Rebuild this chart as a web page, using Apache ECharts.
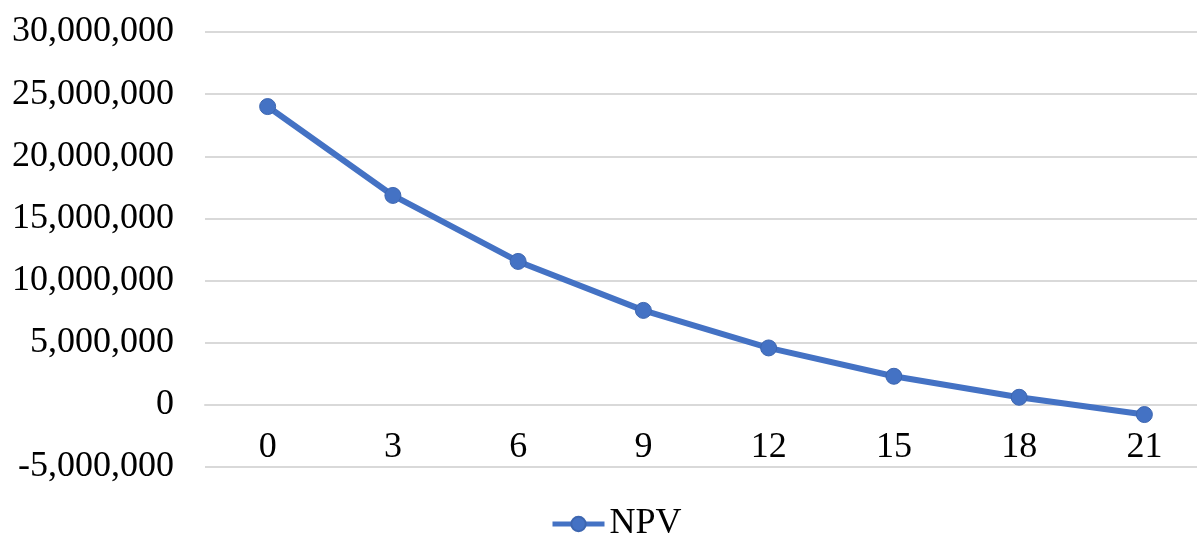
<!DOCTYPE html>
<html>
<head>
<meta charset="utf-8">
<script src="https://cdn.jsdelivr.net/npm/echarts@6/dist/echarts.min.js"></script>
<style>
html,body{margin:0;padding:0;background:#fff;}
#chart{width:1197px;height:536px;}
</style>
</head>
<body>
<div id="chart"></div>
<script>
const categories = ['0', '3', '6', '9', '12', '15', '18', '21'];
const npvValues = [24000000, 16850000, 11540000, 7600000, 4580000, 2300000, 610000, -780000];
const seriesName = 'NPV';

const FONT = '"Liberation Serif", "Times New Roman", serif';
const chart = echarts.init(document.getElementById('chart'), null, {renderer: 'canvas'});
chart.setOption({
  animation: false,
  backgroundColor: '#ffffff',
  grid: {left: 205, right: -10, top: 32, bottom: 69, containLabel: false, outerBoundsMode: 'none'},
  legend: {
    data: [seriesName],
    left: 550,
    top: 506,
    padding: 0,
    itemWidth: 52,
    itemHeight: 18,
    itemGap: 10,
    lineStyle: {width: 5, color: '#4472C4'},
    itemStyle: {color: '#4472C4'},
    textStyle: {fontFamily: FONT, fontSize: 36, color: '#000'}
  },
  xAxis: {
    type: 'category',
    data: categories,
    boundaryGap: true,
    offset: -62,
    axisLine: {show: true, onZero: false, lineStyle: {color: '#d9d9d9', width: 2}},
    axisTick: {show: false},
    axisLabel: {fontFamily: FONT, fontSize: 36, color: '#000', margin: 25},
    splitLine: {show: false}
  },
  yAxis: {
    type: 'value',
    min: -5000000,
    max: 30000000,
    interval: 5000000,
    axisLine: {show: false},
    axisTick: {show: false},
    axisLabel: {
      fontFamily: FONT, fontSize: 36, color: '#000', margin: 31,
      formatter: v => v.toLocaleString('en-US')
    },
    splitLine: {show: true, lineStyle: {color: '#d9d9d9', width: 2}}
  },
  series: [{
    name: seriesName,
    type: 'line',
    data: npvValues,
    symbol: 'circle',
    symbolSize: 16,
    lineStyle: {color: '#4472C4', width: 6},
    itemStyle: {color: '#4472C4', borderColor: '#3d66b0', borderWidth: 1}
  }]
});
</script>
</body>
</html>
